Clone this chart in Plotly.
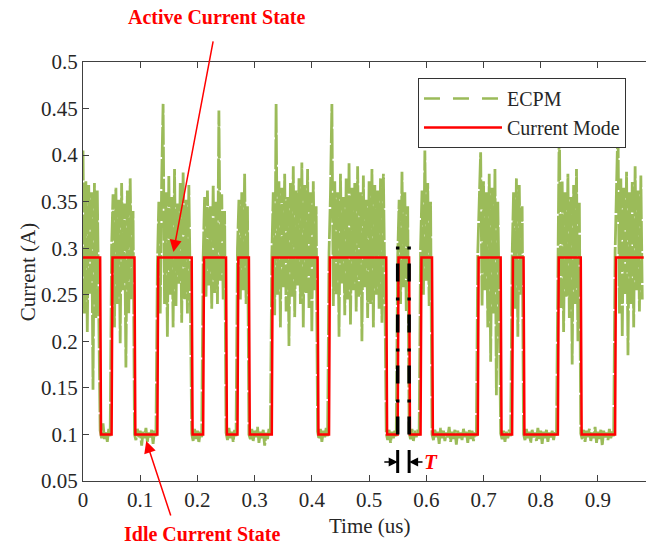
import plotly.graph_objects as go

# ---------------- data ----------------
# ECPM measured current, sampled every 0.0025 us, values in mA
ecpm_step_us = 0.0025
ecpm_ma = [
    405, 230, 372, 210, 368, 250, 360, 148, 370, 225, 362, 240,
    104, 96, 112, 95, 103, 92, 106, 98,
    300, 358, 215, 365, 240, 352, 198, 370, 255, 348, 172, 362, 230, 375, 245, 340,
    100, 94, 106, 97, 104, 88, 103, 96, 107, 92, 102, 97, 105, 90, 104, 98,
    280, 350, 230, 372, 455, 240, 360, 205, 378, 250, 355, 215, 385, 238, 348, 262,
    370, 220, 382, 245, 352, 230, 368, 255,
    101, 93, 106, 95, 104, 91, 103, 97,
    290, 355, 248, 362, 260, 345, 235, 368, 252, 350, 240, 448, 265, 358, 245, 340,
    102, 94, 107, 96, 103, 92, 105, 98,
    300, 352, 245, 360, 255, 380, 240, 345,
    100, 95, 106, 93, 104, 97, 108, 91, 103, 96, 105, 88, 102, 95, 106, 99,
    290, 360, 228, 455, 250, 372, 215, 365, 258, 380, 232, 355, 195, 370, 248, 388,
    226, 362, 260, 375, 240, 392, 215, 368, 252, 385, 235, 360, 210, 372, 255, 345,
    103, 95, 106, 92, 104, 97, 107, 98,
    295, 358, 455, 238, 372, 250, 360, 205, 380, 262, 355, 228, 375, 245, 392, 218,
    365, 255, 370, 232, 388, 248, 360, 200, 378, 258, 352, 225, 372, 240, 385, 215,
    368, 250, 362, 235, 375, 220, 380, 260,
    101, 94, 105, 91, 103, 96, 104, 98,
    290, 352, 240, 382, 258, 360, 232, 345,
    102, 95, 106, 93, 104, 97, 105, 99,
    300, 362, 250, 405, 265, 370, 238, 350,
    100, 94, 105, 97, 103, 90, 107, 96, 104, 93, 102, 97, 108, 92, 103, 95,
    105, 89, 104, 96, 102, 94, 106, 97, 103, 91, 105, 95, 104, 93, 102, 98,
    295, 350, 403, 238, 372, 255, 360, 215, 380, 178, 365, 230, 385, 142, 350, 240,
    101, 95, 104, 92, 103, 96, 105, 98,
    290, 360, 235, 375, 205, 368, 250, 345,
    100, 94, 106, 96, 103, 91, 105, 97, 102, 93, 107, 95, 104, 90, 103, 96,
    105, 92, 102, 97, 104, 94, 103, 99,
    300, 440, 235, 372, 210, 360, 248, 380, 225, 355, 175, 368, 240, 385, 200, 350,
    101, 95, 105, 92, 104, 97, 106, 93, 102, 96, 108, 91, 103, 95, 105, 88,
    104, 97, 102, 94, 106, 96, 103, 98,
    295, 360, 435, 230, 375, 205, 365, 250, 382, 185, 360, 240, 372, 215, 388, 255,
    362, 232, 378, 245,
]

# Current-mode (two-level) model
active_level = 0.29
idle_level = 0.10
idle_start = [0.03, 0.09, 0.19, 0.25, 0.29, 0.41, 0.53, 0.57, 0.61, 0.73, 0.77, 0.87]
idle_end = [0.05, 0.13, 0.21, 0.27, 0.33, 0.43, 0.55, 0.59, 0.69, 0.75, 0.83, 0.93]
t_start, t_end = 0.0, 0.98
edge_us = 0.0015  # finite rise/fall time of the model

# period marker (T)
period_marks = [0.55, 0.57]
period_line_y = [0.10, 0.31]

x_ticks = [0, 0.1, 0.2, 0.3, 0.4, 0.5, 0.6, 0.7, 0.8, 0.9]
x_ticklabels = ["0", "0.1", "0.2", "0.3", "0.4", "0.5", "0.6", "0.7", "0.8", "0.9"]
y_ticks = [0.05, 0.1, 0.15, 0.2, 0.25, 0.3, 0.35, 0.4, 0.45, 0.5]
y_ticklabels = ["0.05", "0.1", "0.15", "0.2", "0.25", "0.3", "0.35", "0.4", "0.45", "0.5"]

# ---------------- build traces ----------------
ecpm_x = [i * ecpm_step_us for i in range(len(ecpm_ma))]
ecpm_y = [v / 1000.0 for v in ecpm_ma]

mode_x = [t_start]
mode_y = [active_level]
for s, e in zip(idle_start, idle_end):
    mode_x += [s, s + edge_us, e, e + edge_us]
    mode_y += [active_level, idle_level, idle_level, active_level]
mode_x.append(t_end)
mode_y.append(active_level)

GREEN = "#9bbb59"
RED = "#ff0000"
SERIF = "Liberation Serif, Times New Roman, serif"
AX = "#404040"
TXT = "#262626"
FS = 21

fig = go.Figure()
fig.add_trace(go.Scatter(
    x=ecpm_x, y=ecpm_y, mode="lines", showlegend=False,
    line=dict(color=GREEN, width=2.8, dash="30px,2px"), hoverinfo="skip"))
# legend-only entry for ECPM
fig.add_trace(go.Scatter(
    x=[None], y=[None], mode="lines", name="ECPM",
    line=dict(color=GREEN, width=2.5, dash="16px,13px")))
fig.add_trace(go.Scatter(
    x=mode_x, y=mode_y, mode="lines", name="Current Mode",
    line=dict(color=RED, width=2.5)))
for xm in period_marks:
    fig.add_trace(go.Scatter(
        x=[xm, xm], y=period_line_y, mode="lines", showlegend=False,
        line=dict(color="black", width=3.5, dash="18px,14px,3px,16px")))

fig.update_layout(
    width=646, height=545,
    margin=dict(l=83, r=0, t=62, b=64),
    paper_bgcolor="white", plot_bgcolor="white",
    font=dict(family=SERIF, size=FS, color=TXT),
    xaxis=dict(range=[0, 0.984], tickvals=x_ticks, ticktext=x_ticklabels,
               ticks="inside", ticklen=6, tickcolor=AX, showgrid=False, zeroline=False,
               showline=True, linecolor=AX, linewidth=1, mirror="ticks",
               tickfont=dict(family=SERIF, size=FS, color=TXT)),
    yaxis=dict(range=[0.05, 0.5], tickvals=y_ticks, ticktext=y_ticklabels,
               ticks="inside", ticklen=6, tickcolor=AX, showgrid=False, zeroline=False,
               showline=True, linecolor=AX, linewidth=1,
               tickfont=dict(family=SERIF, size=FS, color=TXT)),
    legend=dict(x=0.595, y=0.9618, xanchor="left", yanchor="top",
                bgcolor="white", bordercolor="#333333", borderwidth=1,
                font=dict(family=SERIF, size=20, color=TXT),
                itemwidth=78, tracegroupgap=0),
)

ann = []
# axis titles
ann.append(dict(text="Current (A)", xref="paper", yref="paper", x=-0.098, y=0.5,
                xanchor="center", yanchor="middle",
                textangle=-90, showarrow=False, font=dict(family=SERIF, size=FS, color=TXT)))
ann.append(dict(text="Time (us)", xref="paper", yref="paper", x=0.51, y=-0.1074,
                xanchor="center", yanchor="middle",
                showarrow=False, font=dict(family=SERIF, size=FS, color=TXT)))
# state labels
ann.append(dict(text="<b>Active Current State</b>", xref="paper", yref="paper",
                x=0.238, y=1.1074, xanchor="center", yanchor="middle",
                showarrow=False, font=dict(family=SERIF, size=20, color=RED)))
ann.append(dict(text="<b>Idle Current State</b>", xref="paper", yref="paper",
                x=0.211, y=-0.1265, xanchor="center", yanchor="middle",
                showarrow=False, font=dict(family=SERIF, size=20, color=RED)))
# arrows to states
ann.append(dict(text="", x=0.158, y=0.296, xref="x", yref="y", ax=40, ay=-212,
                showarrow=True, arrowhead=2, arrowsize=1.6, arrowwidth=1.5, arrowcolor=RED))
ann.append(dict(text="", x=0.1105, y=0.0929, xref="x", yref="y", ax=25, ay=76,
                showarrow=True, arrowhead=2, arrowsize=1.6, arrowwidth=1.5, arrowcolor=RED))
# period T arrows
yT = 0.0703
ann.append(dict(text="", x=period_marks[0], y=yT, xref="x", yref="y",
                ax=period_marks[0] - 0.026, ay=yT, axref="x", ayref="y",
                showarrow=True, arrowhead=2, arrowsize=1.2, arrowwidth=1.5, arrowcolor="black"))
ann.append(dict(text="", x=period_marks[1], y=yT, xref="x", yref="y",
                ax=period_marks[1] + 0.026, ay=yT, axref="x", ayref="y",
                showarrow=True, arrowhead=2, arrowsize=1.2, arrowwidth=1.5, arrowcolor="black"))
ann.append(dict(text="<b><i>T</i></b>", x=0.609, y=yT, xref="x", yref="y",
                showarrow=False, font=dict(family=SERIF, size=21, color=RED)))
fig.update_layout(annotations=ann)

shapes = []
for xm in period_marks:
    shapes.append(dict(type="line", xref="x", yref="y", x0=xm, x1=xm, y0=0.0586, y1=0.0833,
                       line=dict(color="black", width=3)))
fig.update_layout(shapes=shapes)

fig.write_html("out.html")
